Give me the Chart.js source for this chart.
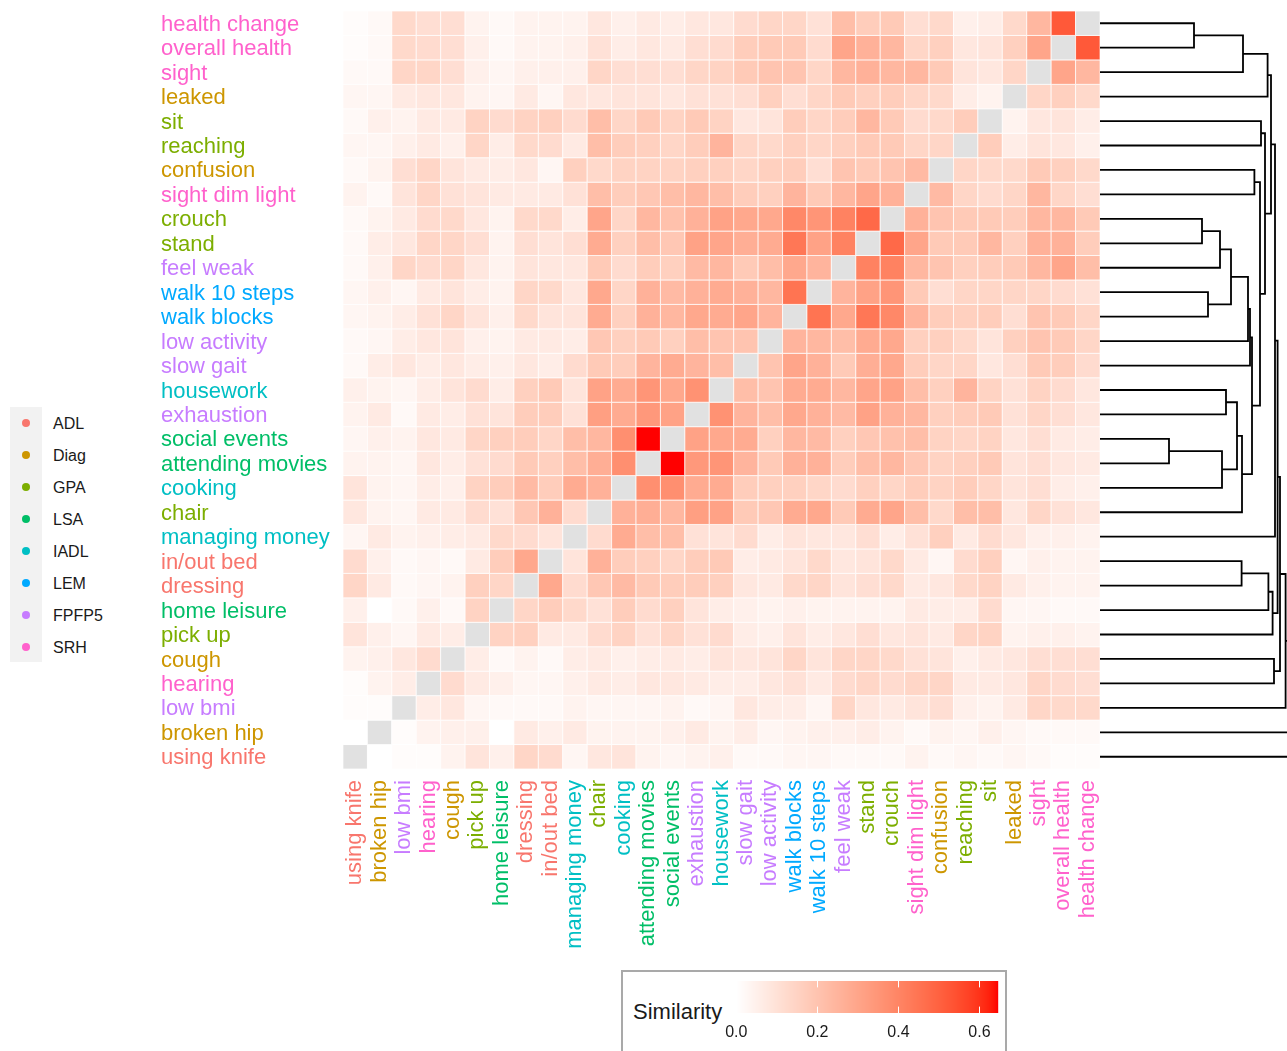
<!DOCTYPE html>
<html>
<head>
<meta charset="utf-8">
<script src="https://cdn.jsdelivr.net/npm/chart.js@4.4.1/dist/chart.umd.min.js"></script>
<style>
  html, body { margin: 0; padding: 0; background: #fff; }
  body { width: 1287px; height: 1051px; position: relative; overflow: hidden;
         font-family: "Liberation Sans", Arial, sans-serif; color: #1a1a1a; }
  canvas { position: absolute; }
  #heat { left: 0; top: 0; }
  #dendro { left: 1100px; top: 0; }
  #bar { left: 700px; top: 975px; }
  #groupKey { position: absolute; left: 10px; top: 407px; width: 32px; height: 255px; background: #f2f2f2; }
  .key-dot { position: absolute; left: 12px; width: 8px; height: 8px; border-radius: 50%; }
  .key-label { position: absolute; left: 43px; font-size: 16px; line-height: 20px; white-space: nowrap; }
  #scaleBox { position: absolute; left: 621px; top: 970px; width: 386px; height: 100px;
              border: 2px solid #a9a9a9; box-sizing: border-box; }
  #scaleTitle { position: absolute; left: 633px; top: 999px; font-size: 22px; line-height: 26px; }
</style>
</head>
<body>
<div id="groupKey"></div>
<div id="scaleBox"></div>
<div id="scaleTitle">Similarity</div>
<canvas id="heat" width="1110" height="960"></canvas>
<canvas id="dendro" width="187" height="780"></canvas>
<canvas id="bar" width="320" height="76"></canvas>
<script>
// leaf order of the clustering (left to right on x, bottom to top on y)
const items = ['using knife', 'broken hip', 'low bmi', 'hearing', 'cough', 'pick up',
  'home leisure', 'dressing', 'in/out bed', 'managing money', 'chair', 'cooking',
  'attending movies', 'social events', 'exhaustion', 'housework', 'slow gait',
  'low activity', 'walk blocks', 'walk 10 steps', 'feel weak', 'stand', 'crouch',
  'sight dim light', 'confusion', 'reaching', 'sit', 'leaked', 'sight',
  'overall health', 'health change'];
const itemGroups = ['ADL', 'Diag', 'FPFP5', 'SRH', 'Diag', 'GPA', 'LSA', 'ADL', 'ADL',
  'IADL', 'GPA', 'IADL', 'LSA', 'LSA', 'FPFP5', 'IADL', 'FPFP5', 'FPFP5', 'LEM', 'LEM',
  'FPFP5', 'GPA', 'GPA', 'SRH', 'Diag', 'GPA', 'GPA', 'Diag', 'SRH', 'SRH', 'SRH'];
const groupNames = ['ADL', 'Diag', 'GPA', 'LSA', 'IADL', 'LEM', 'FPFP5', 'SRH'];
const groupColors = ['#F8766D', '#CD9600', '#7CAE00', '#00BE67', '#00BFC4', '#00A9FF', '#C77CFF', '#FF61CC'];

// similarity, lower triangle: row i holds items 0..i-1
const similarity = [
  [],
  [0.00],
  [0.01, 0.01],
  [0.01, 0.04, 0.06],
  [0.04, 0.05, 0.08, 0.12],
  [0.09, 0.05, 0.03, 0.07, 0.06],
  [0.05, 0.00, 0.02, 0.05, 0.02, 0.15],
  [0.14, 0.07, 0.02, 0.03, 0.04, 0.16, 0.14],
  [0.12, 0.05, 0.02, 0.03, 0.02, 0.07, 0.17, 0.29],
  [0.03, 0.07, 0.04, 0.05, 0.06, 0.07, 0.13, 0.12, 0.09],
  [0.08, 0.04, 0.03, 0.07, 0.07, 0.12, 0.10, 0.19, 0.26, 0.12],
  [0.09, 0.04, 0.03, 0.06, 0.05, 0.15, 0.17, 0.23, 0.17, 0.28, 0.26],
  [0.04, 0.04, 0.03, 0.08, 0.06, 0.10, 0.12, 0.18, 0.16, 0.22, 0.27, 0.37],
  [0.03, 0.05, 0.04, 0.08, 0.07, 0.14, 0.16, 0.17, 0.14, 0.22, 0.24, 0.37, 0.645],
  [0.04, 0.07, 0.02, 0.07, 0.06, 0.10, 0.09, 0.17, 0.17, 0.10, 0.32, 0.28, 0.34, 0.31],
  [0.05, 0.04, 0.03, 0.06, 0.09, 0.12, 0.06, 0.16, 0.18, 0.09, 0.31, 0.28, 0.35, 0.29, 0.36],
  [0.02, 0.06, 0.08, 0.06, 0.08, 0.06, 0.05, 0.08, 0.06, 0.12, 0.18, 0.17, 0.25, 0.28, 0.25, 0.22],
  [0.02, 0.03, 0.06, 0.08, 0.09, 0.05, 0.04, 0.07, 0.07, 0.06, 0.19, 0.16, 0.18, 0.16, 0.22, 0.20, 0.20],
  [0.03, 0.04, 0.06, 0.10, 0.14, 0.09, 0.05, 0.13, 0.09, 0.09, 0.28, 0.16, 0.26, 0.24, 0.29, 0.28, 0.30, 0.25],
  [0.03, 0.05, 0.03, 0.07, 0.09, 0.06, 0.04, 0.14, 0.13, 0.08, 0.29, 0.14, 0.26, 0.23, 0.26, 0.28, 0.26, 0.24, 0.45],
  [0.02, 0.05, 0.14, 0.12, 0.14, 0.08, 0.04, 0.09, 0.08, 0.08, 0.18, 0.12, 0.17, 0.16, 0.23, 0.24, 0.18, 0.22, 0.29, 0.25],
  [0.02, 0.06, 0.08, 0.14, 0.14, 0.11, 0.04, 0.11, 0.09, 0.11, 0.28, 0.16, 0.22, 0.19, 0.31, 0.30, 0.27, 0.28, 0.44, 0.31, 0.41],
  [0.02, 0.04, 0.07, 0.12, 0.13, 0.08, 0.04, 0.13, 0.13, 0.06, 0.30, 0.14, 0.24, 0.21, 0.26, 0.31, 0.29, 0.29, 0.39, 0.35, 0.41, 0.48],
  [0.04, 0.02, 0.09, 0.14, 0.10, 0.09, 0.07, 0.07, 0.07, 0.10, 0.22, 0.17, 0.19, 0.22, 0.24, 0.22, 0.17, 0.16, 0.25, 0.18, 0.24, 0.30, 0.26],
  [0.02, 0.04, 0.11, 0.14, 0.09, 0.07, 0.06, 0.08, 0.03, 0.16, 0.13, 0.15, 0.15, 0.15, 0.16, 0.16, 0.14, 0.16, 0.17, 0.11, 0.20, 0.18, 0.20, 0.23],
  [0.03, 0.03, 0.05, 0.07, 0.05, 0.14, 0.06, 0.13, 0.12, 0.07, 0.22, 0.17, 0.16, 0.14, 0.17, 0.25, 0.14, 0.13, 0.16, 0.14, 0.16, 0.18, 0.18, 0.14, 0.14],
  [0.02, 0.05, 0.04, 0.07, 0.07, 0.15, 0.12, 0.15, 0.16, 0.12, 0.22, 0.14, 0.18, 0.15, 0.18, 0.15, 0.08, 0.09, 0.17, 0.14, 0.17, 0.24, 0.18, 0.12, 0.13, 0.17],
  [0.03, 0.03, 0.07, 0.08, 0.08, 0.04, 0.03, 0.07, 0.03, 0.08, 0.08, 0.09, 0.09, 0.08, 0.10, 0.10, 0.11, 0.16, 0.11, 0.14, 0.18, 0.16, 0.17, 0.14, 0.13, 0.06, 0.04],
  [0.02, 0.02, 0.14, 0.14, 0.11, 0.05, 0.03, 0.05, 0.05, 0.05, 0.14, 0.11, 0.11, 0.11, 0.14, 0.15, 0.18, 0.20, 0.20, 0.14, 0.24, 0.26, 0.24, 0.24, 0.18, 0.09, 0.08, 0.14],
  [0.01, 0.02, 0.13, 0.12, 0.11, 0.05, 0.02, 0.04, 0.04, 0.05, 0.10, 0.06, 0.08, 0.07, 0.11, 0.12, 0.17, 0.18, 0.18, 0.12, 0.30, 0.26, 0.24, 0.14, 0.16, 0.08, 0.09, 0.16, 0.30],
  [0.01, 0.02, 0.13, 0.11, 0.11, 0.04, 0.02, 0.04, 0.04, 0.04, 0.08, 0.05, 0.07, 0.06, 0.08, 0.08, 0.12, 0.14, 0.14, 0.10, 0.22, 0.17, 0.18, 0.11, 0.13, 0.05, 0.06, 0.13, 0.24, 0.52]
];
const scaleLimit = 0.645;
const scaleTicks = [0, 0.2, 0.4, 0.6];

// hclust-style merges: negative = leaf -(item+1), positive = earlier merge (1-based)
const mergeLeft = [-31, 1, 2, -27, -25, -23, 6, -20, 7, 9, 10, -16, -14, 13, 12, 15, 11, 5, 4, 3, 20, -9, 22, 23, -5, 21, 26, 27, 28, 29];
const mergeRight = [-30, -29, -28, -26, -24, -22, -21, -19, 8, -18, -17, -15, -13, -12, 14, -11, 16, 17, 18, 19, -10, -8, -7, -6, -4, 24, 25, -3, -2, -1];
const mergeHeight = [0.47, 0.715, 0.838, 0.805, 0.772, 0.51, 0.60, 0.54, 0.655, 0.74, 0.75, 0.63, 0.345, 0.61, 0.685, 0.71,
  0.76, 0.80, 0.825, 0.855, 0.875, 0.708, 0.842, 0.863, 0.87, 0.888, 0.90, 0.928, 1.0, 1.05];

Chart.defaults.font.family = '"Liberation Sans", Arial, sans-serif';
Chart.defaults.color = '#1a1a1a';

// white -> red gradient interpolated in Lab, like scale_fill_gradient
function toLinear(c) { c /= 255; return c <= 0.04045 ? c / 12.92 : Math.pow((c + 0.055) / 1.055, 2.4); }
function toSrgb(c) {
  c = c <= 0.0031308 ? 12.92 * c : 1.055 * Math.pow(c, 1 / 2.4) - 0.055;
  return Math.round(255 * Math.min(1, Math.max(0, c)));
}
function rgbToLab(rgb) {
  const [R, G, B] = rgb.map(toLinear);
  const X = (0.4124 * R + 0.3576 * G + 0.1805 * B) / 0.95047;
  const Y = 0.2126 * R + 0.7152 * G + 0.0722 * B;
  const Z = (0.0193 * R + 0.1192 * G + 0.9505 * B) / 1.08883;
  const f = t => t > 0.008856 ? Math.cbrt(t) : 7.787 * t + 16 / 116;
  return [116 * f(Y) - 16, 500 * (f(X) - f(Y)), 200 * (f(Y) - f(Z))];
}
function labToRgb(lab) {
  const fy = (lab[0] + 16) / 116, fx = fy + lab[1] / 500, fz = fy - lab[2] / 200;
  const fi = t => t * t * t > 0.008856 ? t * t * t : (t - 16 / 116) / 7.787;
  const X = fi(fx) * 0.95047, Y = fi(fy), Z = fi(fz) * 1.08883;
  return [3.2406 * X - 1.5372 * Y - 0.4986 * Z,
    -0.9689 * X + 1.8758 * Y + 0.0415 * Z,
    0.0557 * X - 0.2040 * Y + 1.0570 * Z].map(toSrgb);
}
const lowLab = rgbToLab([255, 255, 255]);
const highLab = rgbToLab([255, 0, 0]);
function fillColor(v) {
  if (v === null || v === undefined) return '#e1e1e1';
  const t = Math.min(1, Math.max(0, v / scaleLimit));
  const rgb = labToRgb(lowLab.map((l, k) => l + (highLab[k] - l) * t));
  return 'rgb(' + rgb.join(',') + ')';
}
const groupColor = i => groupColors[groupNames.indexOf(itemGroups[i])];

// heatmap cells
const n = items.length;
const cells = [];
for (let i = 0; i < n; i++) {
  for (let j = 0; j < n; j++) {
    const v = i === j ? null : (i > j ? similarity[i][j] : similarity[j][i]);
    cells.push({ x: j, y: i, v: v });
  }
}
function cellRadius(ctx) {
  const xs = ctx.chart.scales.x;
  return Math.abs(xs.getPixelForValue(1) - xs.getPixelForValue(0)) / (2 * Math.SQRT1_2);
}
const labelFont = { size: 22, lineHeight: 1.2 };

new Chart(document.getElementById('heat'), {
  type: 'scatter',
  data: {
    datasets: [{
      data: cells,
      pointStyle: 'rect',
      pointRadius: cellRadius,
      pointHoverRadius: cellRadius,
      pointBackgroundColor: ctx => fillColor(ctx.raw ? ctx.raw.v : null),
      pointBorderColor: 'rgba(255,255,255,0.7)',
      pointBorderWidth: 1,
      clip: false
    }]
  },
  options: {
    responsive: false,
    animation: false,
    devicePixelRatio: 1,
    events: [],
    layout: { padding: { left: 161, top: 11, right: 10, bottom: 0 } },
    plugins: { legend: { display: false }, tooltip: { enabled: false } },
    scales: {
      x: {
        type: 'linear', min: -0.5, max: 30.5,
        grid: { display: false, drawTicks: false }, border: { display: false },
        afterBuildTicks: s => { s.ticks = items.map((_, i) => ({ value: i })); },
        afterFit: s => { s.height = 191; s.paddingLeft = 0; s.paddingRight = 0; },
        ticks: {
          autoSkip: false, minRotation: 90, maxRotation: 90, padding: 11,
          font: labelFont, color: c => groupColor(c.tick.value),
          callback: v => items[v]
        }
      },
      y: {
        type: 'linear', min: -0.5, max: 30.5,
        grid: { display: false, drawTicks: false }, border: { display: false },
        afterBuildTicks: s => { s.ticks = items.map((_, i) => ({ value: i })); },
        afterFit: s => { s.width = 182; s.paddingTop = 0; s.paddingBottom = 0; },
        ticks: {
          autoSkip: false, crossAlign: 'far', padding: 0, labelOffset: 1.5,
          font: labelFont, color: c => groupColor(c.tick.value),
          callback: v => items[v]
        }
      }
    }
  }
});

// dendrogram from the merge table
const nodeY = [], nodeH = [];
const links = [];
function childPos(k) {
  return k < 0 ? { y: -k - 1, h: 0 } : { y: nodeY[k - 1], h: nodeH[k - 1] };
}
mergeLeft.forEach((a, m) => {
  const A = childPos(a), B = childPos(mergeRight[m]), h = mergeHeight[m];
  nodeY.push((A.y + B.y) / 2);
  nodeH.push(h);
  links.push({
    data: [{ x: A.h, y: A.y }, { x: h, y: A.y }, { x: h, y: B.y }, { x: B.h, y: B.y }],
    showLine: true, borderColor: '#000', borderWidth: 1.8, pointRadius: 0,
    fill: false, tension: 0, borderJoinStyle: 'miter'
  });
});

new Chart(document.getElementById('dendro'), {
  type: 'scatter',
  data: { datasets: links },
  options: {
    responsive: false,
    animation: false,
    devicePixelRatio: 1,
    events: [],
    layout: { padding: { left: 0, top: 11, right: 0, bottom: 11 } },
    plugins: { legend: { display: false }, tooltip: { enabled: false } },
    scales: {
      x: { type: 'linear', min: 0, max: 0.935, display: false },
      y: { type: 'linear', min: -0.5, max: 30.5, display: false }
    }
  }
});

// colour bar
const gradientBar = {
  id: 'gradientBar',
  beforeDatasetsDraw(chart) {
    const { ctx, chartArea: a, scales: { x } } = chart;
    for (let px = Math.floor(a.left); px < a.right; px++) {
      ctx.fillStyle = fillColor(x.getValueForPixel(px + 0.5));
      ctx.fillRect(px, a.top, 1.2, a.bottom - a.top);
    }
    ctx.strokeStyle = '#fff';
    ctx.lineWidth = 1;
    const len = (a.bottom - a.top) / 5;
    scaleTicks.slice(1).forEach(v => {
      const px = Math.round(x.getPixelForValue(v)) + 0.5;
      ctx.beginPath();
      ctx.moveTo(px, a.top); ctx.lineTo(px, a.top + len);
      ctx.moveTo(px, a.bottom - len); ctx.lineTo(px, a.bottom);
      ctx.stroke();
    });
  }
};
new Chart(document.getElementById('bar'), {
  type: 'scatter',
  data: { datasets: [{ data: [] }] },
  plugins: [gradientBar],
  options: {
    responsive: false,
    animation: false,
    devicePixelRatio: 1,
    events: [],
    layout: { padding: { left: 36.3, top: 6, right: 22.3, bottom: 0 } },
    plugins: { legend: { display: false }, tooltip: { enabled: false } },
    scales: {
      x: {
        type: 'linear', min: 0, max: scaleLimit,
        grid: { display: false, drawTicks: false }, border: { display: false },
        afterBuildTicks: s => { s.ticks = scaleTicks.map(v => ({ value: v })); },
        afterFit: s => { s.height = 38; s.paddingLeft = 0; s.paddingRight = 0; },
        ticks: { padding: 10, font: { size: 16 }, color: '#1a1a1a', callback: v => v.toFixed(1) }
      },
      y: { display: false, min: 0, max: 1 }
    }
  }
});

// category key on the left
const key = document.getElementById('groupKey');
groupNames.forEach((g, k) => {
  const dot = document.createElement('div');
  dot.className = 'key-dot';
  dot.style.top = (16 + 32 * k - 4) + 'px';
  dot.style.background = groupColors[k];
  key.appendChild(dot);
  const lab = document.createElement('div');
  lab.className = 'key-label';
  lab.style.top = (16 + 32 * k - 9) + 'px';
  lab.textContent = g;
  key.appendChild(lab);
});
</script>
</body>
</html>
